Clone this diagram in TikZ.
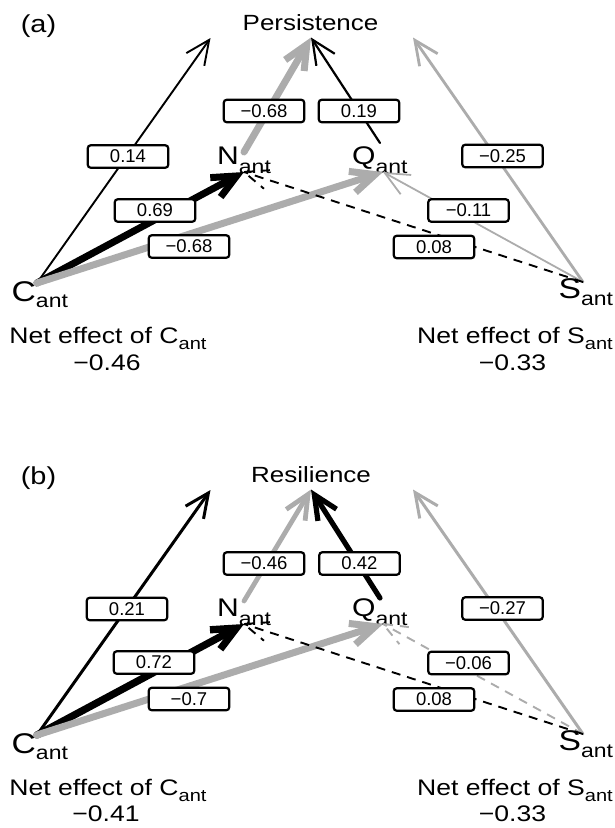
\documentclass[tikz,border=0pt]{standalone}
\usepackage{fontspec}
\setmainfont{Liberation Sans}
\newfontfamily\wfont[FakeStretch=1.18]{Liberation Sans}
\usetikzlibrary{arrows.meta,calc}
\definecolor{lgray}{RGB}{172,172,172}
\newcommand\fs[1]{\fontsize{#1}{#1}\selectfont}
% #1 letter, #2 size, #3 sub size, #4 drop
\newcommand\lab[4]{{\wfont\fs{#2}#1}\raisebox{-#4pt}{\wfont\fs{#3}ant}}
\newcommand\netsub{\raisebox{-6pt}{\wfont\fs{17}ant}}
\begin{document}
\begin{tikzpicture}[x=1pt,y=-1pt,
  conn/.style={line cap=round, line join=round, -{Straight Barb[length=24pt,width=22pt]}},
  dashconn/.style={line cap=butt, dash pattern=on 9pt off 7pt, line width=1.9pt},
  valbox/.style={draw, line width=2.2pt, fill=white, rounded corners=3pt, minimum width=80.5pt, minimum height=22.5pt, inner sep=0pt, font=\fs{18.5}},
  bigtext/.style={inner sep=0pt, anchor=base, font=\wfont\fs{22.5}},
  vlabel/.style={inner sep=0pt, anchor=base west},
]
\useasboundingbox (0,0) rectangle (614,828);

% ---------------- panel (a) ----------------
\coordinate (aC) at (37,283);
\coordinate (aN) at (244,172);
\coordinate (aQ) at (383,172);
\coordinate (aS) at (583,282);
\coordinate (aP) at (311,37.5);
\coordinate (aTL) at (210.5,38);
\coordinate (aTR) at (413,37.5);
\coordinate (aNs) at (244,152);
\coordinate (aQs) at (380,143);

\node[bigtext, font=\wfont\fs{24.5}] (alab) at (38.5,32) {(a)};
\node[bigtext, font=\wfont\fs{22}] (aPl) at (310.5,30) {Persistence};
\node[vlabel] (aCl) at (11.5,301) {\lab{C}{28.5}{19.5}{6.5}};
\node[vlabel] (aNl) at (217,164) {\lab{N}{25.5}{19.5}{9}};
\node[vlabel] (aQl) at (352,164) {\lab{Q}{25.5}{19.5}{9}};
\node[vlabel] (aSl) at (558.5,298.5) {\lab{S}{28.5}{19.5}{6.5}};

\draw[conn, line width=1.9pt] (aC) -- (aTL);
\draw[conn, line width=7pt] (aC) -- (aN);
\draw[conn, line width=7pt, lgray] (aC) -- (aQ);
\draw[conn, line width=7pt, lgray] (aNs) -- (aP);
\draw[conn, line width=2.2pt] (aQs) -- (aP);
\draw[conn, line width=2.8pt, lgray] (aS) -- (aTR);
\draw[conn, line width=1.8pt, lgray] (aS) -- (aQ);
\draw[dashconn] (aS) -- (aN);
\draw[dashconn] ($(aN)!26pt!22:(aS)$) -- (aN) -- ($(aN)!26pt!-22:(aS)$);

\node[valbox] (ab1) at (128,156.5) {0.14};
\node[valbox] (ab2) at (155,210.5) {0.69};
\node[valbox] (ab3) at (189,246.5) {−0.68};
\node[valbox] (ab4) at (264,111) {−0.68};
\node[valbox] (ab5) at (359,111) {0.19};
\node[valbox] (ab6) at (502.5,156) {−0.25};
\node[valbox] (ab7) at (468.5,210.5) {−0.11};
\node[valbox] (ab8) at (434,247) {0.08};

\node[bigtext] (aNetC) at (108,343.5) {Net effect of C\netsub};
\node[bigtext] (aValC) at (107,370.5) {−0.46};
\node[bigtext] (aNetS) at (515,343.5) {Net effect of S\netsub};
\node[bigtext] (aValS) at (512.5,370.5) {−0.33};

% ---------------- panel (b) ----------------
\begin{scope}[yshift=-452pt]
\coordinate (bC) at (37,283);
\coordinate (bN) at (244,172);
\coordinate (bQ) at (383,172);
\coordinate (bS) at (583,282);
\coordinate (bP) at (311,37.5);
\coordinate (bTL) at (210.5,38);
\coordinate (bTR) at (413,37.5);
\coordinate (bNs) at (244,149);
\coordinate (bQs) at (380,146);

\node[bigtext, font=\wfont\fs{24.5}] (blab) at (38.5,32) {(b)};
\node[bigtext, font=\wfont\fs{22}] (bPl) at (311,30) {Resilience};
\node[vlabel] (bCl) at (11.5,301) {\lab{C}{28.5}{19.5}{6.5}};
\node[vlabel] (bNl) at (217,164) {\lab{N}{25.5}{19.5}{9}};
\node[vlabel] (bQl) at (352,164) {\lab{Q}{25.5}{19.5}{9}};
\node[vlabel] (bSl) at (558.5,298.5) {\lab{S}{28.5}{19.5}{6.5}};

\draw[conn, line width=3pt] (bC) -- (bTL);
\draw[conn, line width=7.3pt] (bC) -- (bN);
\draw[conn, line width=7pt, lgray] (bC) -- (bQ);
\draw[conn, line width=4.8pt, lgray] (bNs) -- (bP);
\draw[conn, line width=5.2pt] (bQs) -- (bP);
\draw[conn, line width=3pt, lgray] (bS) -- (bTR);
\draw[dashconn, lgray] (bS) -- (bQ);
\draw[dashconn, lgray] ($(bQ)!26pt!22:(bS)$) -- (bQ) -- ($(bQ)!26pt!-22:(bS)$);
\draw[dashconn] (bS) -- (bN);
\draw[dashconn] ($(bN)!26pt!22:(bS)$) -- (bN) -- ($(bN)!26pt!-22:(bS)$);

\node[valbox] (bb1) at (127,157) {0.21};
\node[valbox] (bb2) at (154,210.5) {0.72};
\node[valbox] (bb3) at (189,247) {−0.7};
\node[valbox] (bb4) at (264,111.5) {−0.46};
\node[valbox] (bb5) at (359.5,111.5) {0.42};
\node[valbox] (bb6) at (502.5,156.5) {−0.27};
\node[valbox] (bb7) at (468.5,211) {−0.06};
\node[valbox] (bb8) at (434,247.5) {0.08};

\node[bigtext] (bNetC) at (108,343) {Net effect of C\netsub};
\node[bigtext] (bValC) at (106,369.7) {−0.41};
\node[bigtext] (bNetS) at (515,343) {Net effect of S\netsub};
\node[bigtext] (bValS) at (512.5,369.7) {−0.33};
\end{scope}
\end{tikzpicture}
\end{document}
